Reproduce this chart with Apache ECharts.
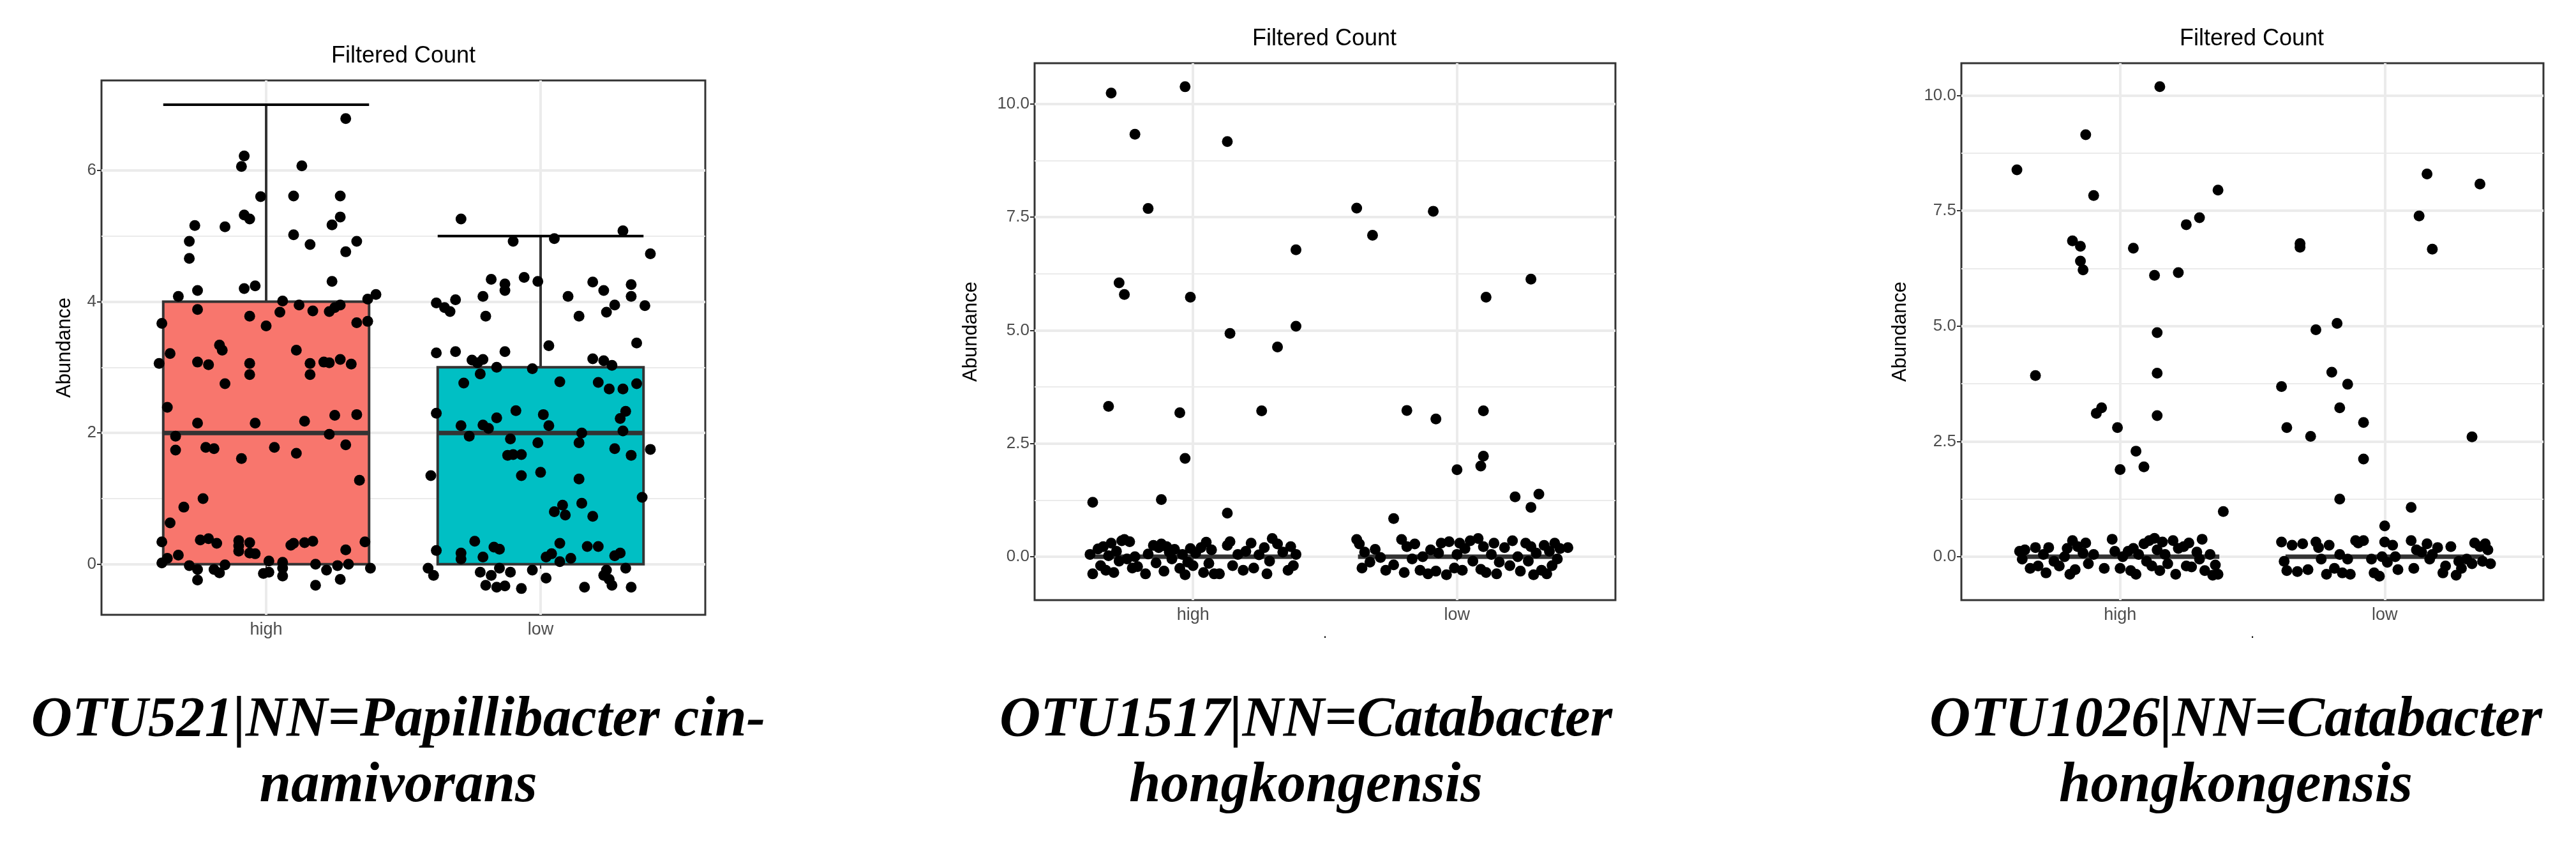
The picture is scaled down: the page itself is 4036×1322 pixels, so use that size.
<!DOCTYPE html>
<html><head><meta charset="utf-8">
<script src="https://cdn.jsdelivr.net/npm/echarts@6/dist/echarts.min.js"></script>
<style>html,body{margin:0;padding:0;background:#fff}#c{width:4036px;height:1322px}</style>
</head><body><div id="c"></div>
<script>
const categories = ['high', 'low'];
const colors1 = ['#F8766D', '#00BFC4'];
const titles = ['Filtered Count', 'Filtered Count', 'Filtered Count'];
const captions = ['OTU521|NN=Papillibacter cin-\nnamivorans', 'OTU1517|NN=Catabacter\nhongkongensis', 'OTU1026|NN=Catabacter\nhongkongensis'];
const yTicks1 = [0, 2, 4, 6], yMinor1 = [1, 3, 5];
const yTicks2 = [0, 2.5, 5, 7.5, 10], yMinor2 = [1.25, 3.75, 6.25, 8.75];
// box stats: [x, min, q1, median, q3, max]
const box1 = [[1, 0, 0, 2, 4, 7], [2, 0, 0, 2, 3, 5]];
const box2 = [[1, 0, 0, 0, 0, 0], [2, 0, 0, 0, 0, 0]];
const box3 = [[1, 0, 0, 0, 0, 0], [2, 0, 0, 0, 0, 0]];
// points [jittered x, abundance]
const pts1 = [[1.29,6.79],[0.92,6.22],[0.91,6.06],[1.13,6.07],[0.98,5.60],[1.10,5.61],[1.27,5.61],[0.92,5.32],[0.94,5.26],[0.74,5.16],[0.85,5.14],[1.24,5.17],[1.27,5.29],[1.10,5.02],[0.72,4.92],[1.16,4.87],[1.33,4.92],[1.29,4.76],[0.72,4.66],[1.24,4.31],[0.92,4.20],[0.96,4.24],[0.75,4.17],[0.68,4.08],[1.40,4.11],[1.37,4.04],[1.06,4.01],[1.12,3.95],[1.27,3.95],[1.25,3.91],[1.17,3.86],[1.23,3.85],[1.05,3.84],[0.75,3.88],[0.94,3.78],[0.62,3.67],[1.33,3.68],[1.37,3.70],[1.00,3.63],[0.83,3.34],[0.84,3.26],[1.11,3.26],[0.65,3.21],[0.61,3.06],[0.75,3.08],[0.79,3.04],[0.94,3.06],[1.16,3.06],[1.21,3.08],[1.23,3.07],[1.27,3.12],[1.31,3.05],[0.94,2.89],[1.16,2.89],[0.85,2.75],[0.64,2.39],[0.75,2.15],[0.96,2.15],[1.14,2.18],[1.25,2.27],[1.33,2.28],[0.67,1.95],[1.23,1.98],[0.67,1.74],[0.78,1.78],[0.81,1.76],[1.03,1.78],[1.29,1.82],[1.11,1.69],[0.91,1.61],[1.34,1.28],[0.70,0.87],[0.77,1.00],[0.65,0.63],[0.62,0.34],[0.76,0.37],[0.79,0.39],[0.82,0.32],[0.90,0.28],[0.90,0.36],[0.94,0.33],[0.90,0.20],[0.94,0.17],[0.96,0.16],[1.09,0.29],[1.10,0.32],[1.14,0.33],[1.17,0.35],[1.29,0.22],[1.36,0.34],[0.62,0.02],[0.64,0.09],[0.68,0.14],[0.72,-0.02],[0.75,-0.08],[0.75,-0.24],[0.81,-0.08],[0.83,-0.13],[0.85,-0.01],[0.99,-0.14],[1.01,-0.12],[1.01,0.05],[1.06,0.03],[1.06,-0.06],[1.06,-0.18],[1.18,0.00],[1.18,-0.32],[1.22,-0.09],[1.26,-0.02],[1.27,-0.23],[1.30,0.00],[1.38,-0.06],
[1.71,5.26],[2.30,5.08],[1.90,4.92],[2.05,4.96],[2.40,4.73],[1.94,4.37],[1.82,4.34],[1.87,4.27],[1.87,4.17],[1.99,4.31],[2.19,4.30],[2.33,4.26],[2.23,4.17],[2.33,4.08],[2.10,4.08],[1.79,4.08],[1.62,3.98],[1.69,4.03],[1.65,3.91],[1.67,3.85],[2.27,3.95],[2.38,3.94],[2.24,3.84],[1.80,3.78],[2.14,3.78],[2.35,3.37],[2.03,3.33],[1.62,3.22],[1.69,3.24],[1.87,3.24],[1.75,3.11],[1.77,3.07],[1.79,3.12],[2.19,3.13],[2.23,3.10],[2.26,3.03],[1.84,3.00],[1.97,2.98],[1.78,2.90],[1.72,2.76],[2.07,2.78],[2.21,2.77],[2.25,2.67],[2.30,2.67],[2.35,2.75],[1.62,2.30],[1.91,2.34],[2.01,2.28],[1.84,2.23],[2.31,2.33],[2.29,2.22],[1.71,2.11],[1.79,2.12],[1.81,2.07],[2.03,2.11],[2.15,2.00],[2.30,2.03],[1.74,1.95],[1.89,1.91],[1.99,1.85],[2.14,1.85],[2.27,1.76],[2.40,1.75],[2.33,1.66],[1.88,1.66],[1.90,1.67],[1.93,1.67],[1.60,1.35],[1.93,1.35],[2.00,1.40],[2.14,1.30],[2.37,1.02],[2.15,0.93],[2.08,0.90],[2.05,0.80],[2.09,0.75],[2.19,0.73],[1.76,0.35],[2.07,0.32],[1.62,0.21],[1.83,0.26],[1.85,0.23],[2.17,0.27],[2.21,0.27],[2.29,0.17],[2.27,0.13],[1.71,0.17],[1.79,0.11],[1.71,0.08],[2.02,0.11],[2.04,0.16],[2.11,0.09],[2.07,0.04],[1.59,-0.06],[1.61,-0.17],[1.78,-0.12],[1.82,-0.17],[1.85,-0.06],[1.89,-0.12],[1.97,-0.09],[1.80,-0.32],[1.84,-0.35],[1.87,-0.33],[1.93,-0.37],[2.02,-0.21],[2.16,-0.35],[2.23,-0.17],[2.25,-0.23],[2.26,-0.32],[2.31,-0.06],[2.33,-0.35],[2.24,-0.09]];
const pts2 = [[0.69,10.24],[0.97,10.38],[0.78,9.33],[1.13,9.17],[0.83,7.69],[1.39,6.78],[0.72,6.05],[0.74,5.79],[0.99,5.73],[1.39,5.09],[1.14,4.93],[1.32,4.63],[0.68,3.32],[0.95,3.18],[1.26,3.22],[0.97,2.17],[0.62,1.20],[0.88,1.26],[1.13,0.96],
[0.61,0.05],[0.62,-0.38],[0.64,0.17],[0.65,-0.2],[0.66,0.22],[0.67,-0.3],[0.68,0.02],[0.69,0.3],[0.70,-0.35],[0.71,0.12],[0.72,-0.1],[0.73,0.35],[0.74,0.38],[0.75,-0.05],[0.76,0.33],[0.77,-0.25],[0.78,0.0],[0.79,-0.22],[0.82,-0.38],[0.83,0.06],[0.85,0.25],[0.86,-0.14],[0.87,0.2],[0.88,0.28],[0.89,-0.32],[0.90,0.22],[0.91,0.1],[0.92,-0.05],[0.93,0.16],[0.95,-0.26],[0.96,0.05],[0.97,-0.4],[0.98,-0.12],[0.99,0.18],[1.00,-0.2],[1.01,0.08],[1.03,0.2],[1.04,-0.35],[1.05,0.32],[1.06,-0.15],[1.07,0.15],[1.08,-0.38],[1.10,-0.38],[1.13,0.25],[1.14,0.33],[1.15,-0.2],[1.17,0.05],[1.19,-0.3],[1.2,0.12],[1.22,0.3],[1.23,-0.25],[1.25,0.04],[1.27,0.2],[1.28,-0.38],[1.29,-0.1],[1.30,0.4],[1.32,0.28],[1.34,0.1],[1.36,-0.3],[1.37,0.22],[1.38,-0.2],[1.39,0.05],
[1.62,7.70],[1.68,7.10],[1.91,7.63],[2.28,6.13],[2.11,5.73],[1.81,3.23],[1.92,3.04],[2.10,3.22],[2.10,2.22],[2.09,2.00],[2.00,1.92],[2.22,1.32],[2.31,1.38],[2.28,1.09],[1.76,0.84],
[1.62,0.38],[1.63,0.28],[1.64,-0.25],[1.65,0.1],[1.67,-0.12],[1.69,0.16],[1.71,-0.02],[1.73,-0.3],[1.76,-0.18],[1.79,0.38],[1.80,-0.35],[1.81,0.22],[1.83,-0.05],[1.84,0.28],[1.86,-0.3],[1.87,0.0],[1.89,-0.38],[1.9,0.15],[1.92,-0.32],[1.93,0.08],[1.94,0.3],[1.96,-0.4],[1.97,0.33],[1.99,-0.25],[2.0,0.05],[2.01,0.3],[2.02,-0.3],[2.03,0.18],[2.05,0.35],[2.06,-0.1],[2.08,0.4],[2.09,-0.28],[2.1,0.22],[2.11,-0.35],[2.13,0.05],[2.14,0.3],[2.15,-0.38],[2.16,-0.12],[2.18,0.2],[2.2,-0.2],[2.21,0.35],[2.23,0.0],[2.24,-0.32],[2.26,0.3],[2.27,-0.1],[2.28,0.22],[2.29,-0.4],[2.3,0.08],[2.32,-0.3],[2.33,0.25],[2.34,-0.38],[2.35,0.12],[2.36,-0.2],[2.37,0.3],[2.38,-0.05],[2.39,0.18],[2.42,0.2]];
const pts3 = [[1.15,10.19],[0.87,9.15],[0.61,8.39],[0.90,7.83],[1.37,7.95],[1.30,7.35],[1.25,7.20],[0.82,6.85],[0.85,6.73],[1.05,6.69],[0.85,6.41],[0.86,6.22],[1.13,6.10],[1.22,6.16],[1.14,4.86],[1.14,3.98],[0.68,3.93],[0.93,3.23],[0.91,3.11],[1.14,3.06],[0.99,2.80],[1.06,2.29],[1.09,1.95],[1.00,1.89],[1.39,0.98],
[0.62,0.12],[0.63,-0.05],[0.64,0.15],[0.66,-0.25],[0.68,0.2],[0.69,-0.2],[0.71,0.05],[0.72,-0.35],[0.73,0.2],[0.75,-0.1],[0.77,-0.2],[0.79,0.0],[0.80,0.18],[0.81,-0.38],[0.82,0.35],[0.83,-0.28],[0.84,0.22],[0.86,0.08],[0.87,0.3],[0.88,-0.15],[0.90,0.05],[0.94,-0.25],[0.97,0.38],[0.98,0.12],[1.0,-0.25],[1.01,0.0],[1.03,0.12],[1.04,-0.3],[1.05,0.18],[1.06,-0.38],[1.07,0.05],[1.09,0.28],[1.1,-0.1],[1.11,0.35],[1.12,-0.2],[1.13,0.4],[1.14,0.15],[1.15,-0.3],[1.16,0.32],[1.17,0.05],[1.18,-0.15],[1.2,0.35],[1.21,-0.38],[1.22,0.18],[1.24,0.22],[1.25,-0.2],[1.26,0.3],[1.27,-0.22],[1.29,0.1],[1.3,-0.05],[1.31,0.38],[1.32,-0.3],[1.34,0.05],[1.35,-0.4],[1.36,-0.18],[1.37,-0.38],
[2.16,8.30],[2.36,8.08],[2.13,7.39],[2.18,6.67],[1.68,6.79],[1.68,6.71],[1.82,5.06],[1.74,4.92],[1.80,4.00],[1.61,3.69],[1.86,3.74],[1.83,3.23],[1.63,2.80],[1.72,2.61],[1.92,2.91],[2.33,2.60],[1.92,2.12],[1.83,1.25],[2.10,1.07],[2.00,0.67],
[1.61,0.32],[1.62,-0.1],[1.63,-0.3],[1.65,0.25],[1.67,-0.32],[1.69,0.28],[1.71,-0.28],[1.74,0.32],[1.75,0.2],[1.76,-0.05],[1.78,-0.38],[1.79,0.25],[1.81,-0.25],[1.83,0.05],[1.84,-0.35],[1.86,-0.05],[1.87,-0.38],[1.89,0.35],[1.9,0.3],[1.92,0.35],[1.95,-0.05],[1.96,-0.35],[1.98,-0.42],[1.99,0.0],[2.0,0.32],[2.01,-0.12],[2.03,0.25],[2.04,0.0],[2.05,-0.28],[2.1,0.35],[2.11,-0.25],[2.12,0.15],[2.14,0.1],[2.16,0.28],[2.17,-0.05],[2.18,0.05],[2.2,0.2],[2.22,-0.35],[2.23,-0.2],[2.25,0.22],[2.27,-0.4],[2.28,-0.1],[2.29,-0.25],[2.31,-0.05],[2.33,-0.15],[2.34,0.3],[2.36,0.22],[2.37,-0.1],[2.38,0.28],[2.39,0.15],[2.40,-0.15]];

const panels = [
  {grid:{left:159,top:126,width:946,height:837}, yMin:-0.77, yMax:7.37, ticks:yTicks1, minor:yMinor1, box:box1, pts:pts1, fill:colors1, nameGap:42, titleX:632, titleY:88, capX:624, dot:false, fmt:v=>String(v)},
  {grid:{left:1621,top:99,width:910,height:841}, yMin:-0.96, yMax:10.9, ticks:yTicks2, minor:yMinor2, box:box2, pts:pts2, fill:null, nameGap:84, titleX:2075, titleY:61, capX:2046, dot:true, fmt:v=>v.toFixed(1)},
  {grid:{left:3073,top:99,width:912,height:841}, yMin:-0.94, yMax:10.7, ticks:yTicks2, minor:yMinor2, box:box3, pts:pts3, fill:null, nameGap:80, titleX:3528, titleY:61, capX:3503, dot:true, fmt:v=>v.toFixed(1)}
];

const grid=[], xAxis=[], yAxis=[], series=[], graphic=[];
panels.forEach((p,i)=>{
  grid.push(Object.assign({show:true, borderColor:'#333', borderWidth:3, backgroundColor:'#fff'}, p.grid));
  xAxis.push({type:'value', gridIndex:i, min:0.4, max:2.6, axisLine:{show:false}, splitLine:{show:false},
    axisTick:{show:true, customValues:[1,2], length:7, lineStyle:{color:'#333', width:2}},
    axisLabel:{customValues:[1,2], formatter:v=>categories[Math.round(v)-1], fontSize:27, color:'#4d4d4d', fontFamily:'Liberation Sans', margin:10},
    name: p.dot ? '.' : '', nameLocation:'middle', nameGap:30, nameTextStyle:{fontSize:22, color:'#000'}});
  yAxis.push({type:'value', gridIndex:i, min:p.yMin, max:p.yMax, axisLine:{show:false}, splitLine:{show:false},
    axisTick:{show:true, customValues:p.ticks, length:7, lineStyle:{color:'#333', width:2}},
    axisLabel:{customValues:p.ticks, formatter:p.fmt, fontSize:26, color:'#4d4d4d', fontFamily:'Liberation Sans', margin:8},
    name:'Abundance', nameLocation:'middle', nameRotate:90, nameGap:p.nameGap, nameTextStyle:{fontSize:31, color:'#000', fontFamily:'Liberation Sans'}});
  const ml = [];
  p.ticks.forEach(v=>ml.push({yAxis:v, lineStyle:{color:'#ebebeb', width:4, type:'solid'}}));
  p.minor.forEach(v=>ml.push({yAxis:v, lineStyle:{color:'#ebebeb', width:2, type:'solid'}}));
  [1,2].forEach(v=>ml.push({xAxis:v, lineStyle:{color:'#ebebeb', width:4, type:'solid'}}));
  series.push({type:'line', xAxisIndex:i, yAxisIndex:i, data:[], z:0, silent:true,
    markLine:{silent:true, z:0, symbol:'none', label:{show:false}, lineStyle:{type:'solid', opacity:1}, data:ml, animation:false}});
  series.push({type:'custom', xAxisIndex:i, yAxisIndex:i, z:10, data:p.box, silent:true,
    renderItem:(params, api)=>{
      const x=api.value(0), mn=api.value(1), q1=api.value(2), md=api.value(3), q3=api.value(4), mx=api.value(5);
      const hw=0.375;
      const L=api.coord([x-hw,0])[0], R=api.coord([x+hw,0])[0], C=api.coord([x,0])[0];
      const y=v=>api.coord([x,v])[1];
      const ls={stroke:'#333', lineWidth:4};
      const ch=[];
      ch.push({type:'line', shape:{x1:C,y1:y(q3),x2:C,y2:y(mx)}, style:ls});
      ch.push({type:'line', shape:{x1:C,y1:y(q1),x2:C,y2:y(mn)}, style:ls});
      if (mx>q3) ch.push({type:'line', shape:{x1:L,y1:y(mx),x2:R,y2:y(mx)}, style:{stroke:'#000', lineWidth:4}});
      if (q3>q1) ch.push({type:'rect', shape:{x:L,y:y(q3),width:R-L,height:y(q1)-y(q3)}, style:{fill:p.fill?p.fill[params.dataIndex]:'none', stroke:'#333', lineWidth:4}});
      ch.push({type:'line', shape:{x1:L,y1:y(md),x2:R,y2:y(md)}, style:{stroke:'#333', lineWidth:7}});
      return {type:'group', children:ch};
    }});
  series.push({type:'scatter', xAxisIndex:i, yAxisIndex:i, z:11, data:p.pts, symbolSize:17, itemStyle:{color:'#000', opacity:1, borderWidth:0}, silent:true});
  graphic.push({type:'text', x:p.titleX, y:p.titleY, style:{text:titles[i], font:'36px "Liberation Sans"', fill:'#000', align:'center', verticalAlign:'middle'}});
  graphic.push({type:'text', x:p.capX, y:1078, style:{text:captions[i], font:'italic bold 89px "Liberation Serif"', lineHeight:103, fill:'#000', align:'center', verticalAlign:'top'}});
});

const chart = echarts.init(document.getElementById('c'));
chart.setOption({animation:false, backgroundColor:'#fff', grid, xAxis, yAxis, series, graphic});
</script></body></html>
